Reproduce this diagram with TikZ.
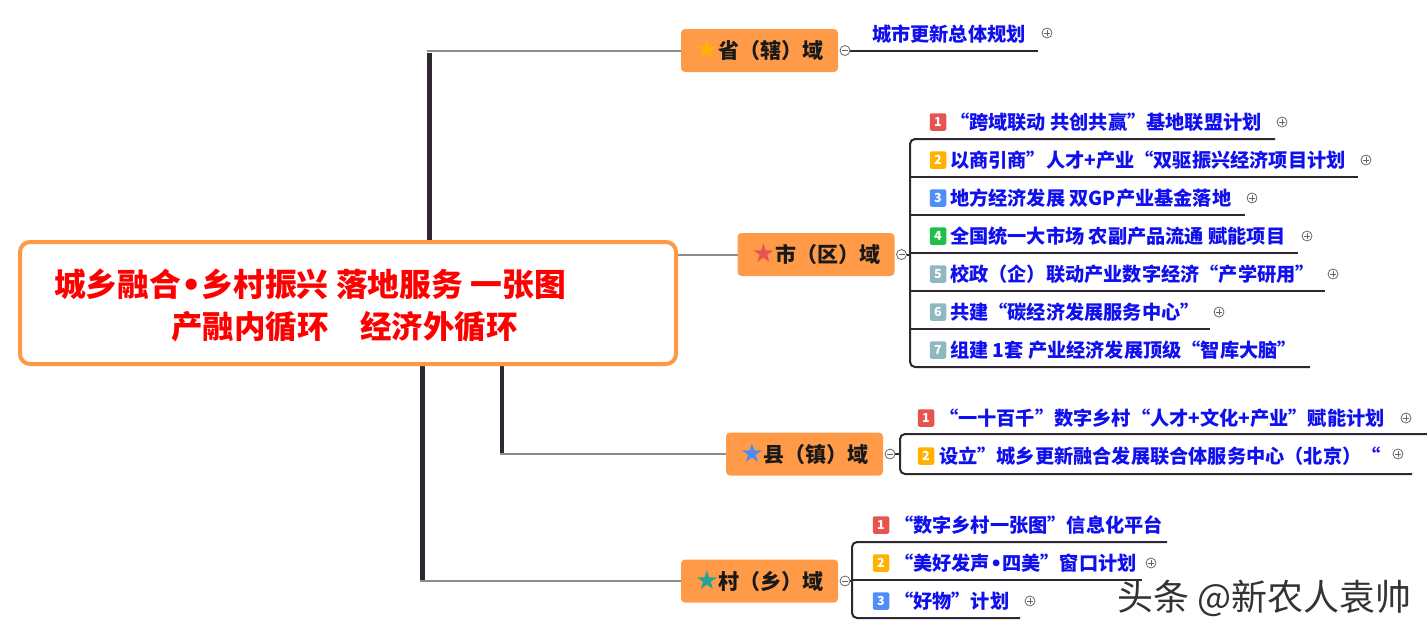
\documentclass[tikz,border=0pt]{standalone}
\usepackage{fontspec}
\setmainfont{Noto Sans CJK SC}
\newfontfamily\symfont{DejaVu Sans}
\usetikzlibrary{backgrounds}
\definecolor{orangeF}{HTML}{FF9A48}
\definecolor{orangeB}{HTML}{FF9944}
\definecolor{darkline}{HTML}{2E2630}
\definecolor{grayline}{HTML}{8C8C8C}
\definecolor{itemblue}{HTML}{1010EE}
\definecolor{titlered}{HTML}{FF0000}
\definecolor{bR}{HTML}{E8524F}
\definecolor{bA}{HTML}{FFB300}
\definecolor{bB}{HTML}{4F8EF7}
\definecolor{bG}{HTML}{1EC04A}
\definecolor{bT}{HTML}{8FB8C0}
\definecolor{starGold}{HTML}{FFB400}
\definecolor{starRed}{HTML}{E8524F}
\definecolor{starBlue}{HTML}{4A8CF0}
\definecolor{starTeal}{HTML}{1FA595}
\definecolor{markgray}{HTML}{666666}
\newcommand{\dotsep}{{\symfont\bfseries •}}
\newcommand{\brstar}[1]{{\symfont\fontsize{26}{26}\selectfont\textcolor{#1}{★}}}
\begin{document}
\begin{tikzpicture}[x=1pt,y=-1pt,
  every node/.style={inner sep=0pt, outer sep=0pt},
  hubbox/.style={draw=orangeB, fill=white, line width=4pt, rounded corners=10pt, minimum width=656pt, minimum height=122pt},
  titletext/.style={anchor=west, text=titlered, font=\fontsize{31.8}{36}\selectfont\bfseries},
  branch/.style={fill=orangeF, rounded corners=4pt, minimum width=157pt, minimum height=43pt, font=\fontsize{21}{25}\selectfont\bfseries, text=black!90},
  itemtext/.style={anchor=west, text=itemblue, font=\fontsize{19.2}{23}\selectfont\bfseries},
  badge/.style={fill=#1, rounded corners=2pt, minimum width=16.5pt, minimum height=17.5pt, text=white, font=\fontsize{12.5}{12.5}\selectfont\bfseries},
  trunk/.style={draw=darkline, line width=5pt},
  twig/.style={draw=grayline, line width=2pt},
  under/.style={draw=darkline, line width=2pt},
  expander/.style={circle, draw=markgray, fill=white, line width=0.8pt, minimum size=10pt,
    path picture={\draw[markgray, line width=0.8pt] ([xshift=-3pt]path picture bounding box.center) -- ([xshift=3pt]path picture bounding box.center);
      \draw[markgray, line width=0.8pt] ([yshift=-3pt]path picture bounding box.center) -- ([yshift=3pt]path picture bounding box.center);}},
  collapser/.style={circle, draw=markgray, fill=white, line width=0.8pt, minimum size=10pt,
    path picture={\draw[markgray, line width=0.8pt] ([xshift=-3pt]path picture bounding box.center) -- ([xshift=3pt]path picture bounding box.center);}}
]
\useasboundingbox (0,0) rectangle (1427,635);

% central topic
\node[hubbox] (hub) at (348,303) {};
\node[titletext] (t1) at (54,284) {城乡融合\dotsep 乡村振兴 落地服务 一张图};
\node[titletext, font=\fontsize{31.5}{36}\selectfont\bfseries] (t2) at (171,327) {产融内循环　经济外循环};

% branch topics
\node[branch] (sheng) at (759.5,50.5) {\brstar{starGold}省（辖）域};
\node[branch] (shi) at (816,254.5) {\brstar{starRed}市（区）域};
\node[branch] (xian) at (804.5,454) {\brstar{starBlue}县（镇）域};
\node[branch] (cun) at (759.5,581) {\brstar{starTeal}村（乡）域};

% connectors from central topic
\coordinate (jS) at (429,50.5);
\coordinate (jX) at (502,454);
\coordinate (jC) at (422,581);
\begin{scope}[on background layer]
  \draw[trunk] (jS |- hub.north) -- ([yshift=-2pt]jS);
  \draw[twig] ([xshift=-2.5pt]jS) -- (sheng.west);
  \draw[twig] (hub.east |- shi.west) -- (shi.west);
  \draw[trunk, line width=4.5pt] (jX |- hub.south) -- ([yshift=1pt]jX);
  \draw[twig] ([xshift=-2.25pt]jX) -- (xian.west);
  \draw[trunk] (jC |- hub.south) -- ([yshift=1pt]jC);
  \draw[twig] ([xshift=-2.5pt]jC) -- (cun.west);
\end{scope}

% ===== 省（辖）域 =====
\node[collapser] (kS) at ([xshift=7pt]sheng.east) {};
\coordinate (s1e) at (1038,50.5);
\begin{scope}[on background layer]
  \draw[under] (kS) -- (s1e);
\end{scope}
\node[itemtext] (s1) at (872,34) {城市更新总体规划};
\node[expander] (s1x) at (1047,33) {};

% ===== 市（区）域 =====
\node[collapser] (kM) at ([xshift=7pt]shi.east) {};
\coordinate (mTop) at (910,139);
\coordinate (mBot) at (910,367);
\coordinate (m1e) at (1275,139);
\coordinate (m2s) at (910,177) ; \coordinate (m2e) at (1358,177);
\coordinate (m3s) at (910,215) ; \coordinate (m3e) at (1245,215);
\coordinate (m4s) at (910,253) ; \coordinate (m4e) at (1298,253);
\coordinate (m5s) at (910,291) ; \coordinate (m5e) at (1325,291);
\coordinate (m6s) at (910,329) ; \coordinate (m6e) at (1210,329);
\coordinate (m7e) at (1310,367);
\begin{scope}[on background layer]
  \draw[under, rounded corners=5pt] (m1e) -- (mTop) -- (mBot) -- (m7e);
  \draw[under] (m2s) -- (m2e);
  \draw[under] (m3s) -- (m3e);
  \draw[under] (m4s) -- (m4e);
  \draw[under] (m5s) -- (m5e);
  \draw[under] (m6s) -- (m6e);
  \draw[under] (kM) -- (kM -| mTop);
\end{scope}
\node[badge=bR] (m1b) at (938,122) {1};
\node[itemtext] (m1) at (950,122) {“跨域联动 共创共赢”基地联盟计划};
\node[expander] (m1x) at (1282,122) {};
\node[badge=bA] (m2b) at (938,160) {2};
\node[itemtext] (m2) at (950,160) {以商引商”人才+产业“双驱振兴经济项目计划};
\node[expander] (m2x) at (1366,160) {};
\node[badge=bB] (m3b) at (938,198) {3};
\node[itemtext] (m3) at (950,198) {地方经济发展 双GP产业基金落地};
\node[expander] (m3x) at (1252,198) {};
\node[badge=bG] (m4b) at (938,236) {4};
\node[itemtext] (m4) at (950,236) {全国统一大市场 农副产品流通 赋能项目};
\node[expander] (m4x) at (1307,236) {};
\node[badge=bT] (m5b) at (938,274) {5};
\node[itemtext] (m5) at (950,274) {校政（企）联动产业数字经济“产学研用”};
\node[expander] (m5x) at (1333,274) {};
\node[badge=bT] (m6b) at (938,312) {6};
\node[itemtext] (m6) at (950,312) {共建“碳经济发展服务中心”};
\node[expander] (m6x) at (1219,312) {};
\node[badge=bT] (m7b) at (938,350) {7};
\node[itemtext] (m7) at (950,350) {组建 1套 产业经济发展顶级“智库大脑”};

% ===== 县（镇）域 =====
\node[collapser] (kX) at ([xshift=7pt]xian.east) {};
\coordinate (xTop) at (900,434);
\coordinate (xBot) at (900,474);
\coordinate (x1e) at (1427,434);
\coordinate (x2e) at (1412,474);
\begin{scope}[on background layer]
  \draw[under, rounded corners=5pt] (x1e) -- (xTop) -- (xBot) -- (x2e);
  \draw[under] (kX) -- (kX -| xTop);
\end{scope}
\node[badge=bR] (x1b) at (926,418) {1};
\node[itemtext] (x1) at (939,418) {“一十百千”数字乡村“人才+文化+产业”赋能计划};
\node[expander] (x1x) at (1406,418) {};
\node[badge=bA] (x2b) at (926,456) {2};
\node[itemtext] (x2) at (939,456) {设立”城乡更新融合发展联合体服务中心（北京）“};
\node[expander] (x2x) at (1398,454) {};

% ===== 村（乡）域 =====
\node[collapser] (kC) at ([xshift=7pt]cun.east) {};
\coordinate (cTop) at (852,542);
\coordinate (cBot) at (852,618);
\coordinate (c1e) at (1167,542);
\coordinate (c2s) at (852,580); \coordinate (c2e) at (1142,580);
\coordinate (c3e) at (1020,618);
\begin{scope}[on background layer]
  \draw[under, rounded corners=5pt] (c1e) -- (cTop) -- (cBot) -- (c3e);
  \draw[under] (c2s) -- (c2e);
  \draw[under] (kC) -- (kC -| cTop);
\end{scope}
\node[badge=bR] (c1b) at (881,525) {1};
\node[itemtext] (c1) at (894,525) {“数字乡村一张图”信息化平台};
\node[badge=bA] (c2b) at (881,563) {2};
\node[itemtext] (c2) at (894,563) {“美好发声\dotsep 四美”窗口计划};
\node[expander] (c2x) at (1151,563) {};
\node[badge=bB] (c3b) at (881,601) {3};
\node[itemtext] (c3) at (894,601) {“好物”计划};
\node[expander] (c3x) at (1030,601) {};

% watermark
\node[font=\fontsize{36}{36}\selectfont, text=black!80, anchor=west] (wm) at (1117,598) {头条 @新农人袁帅};
\end{tikzpicture}
\end{document}
